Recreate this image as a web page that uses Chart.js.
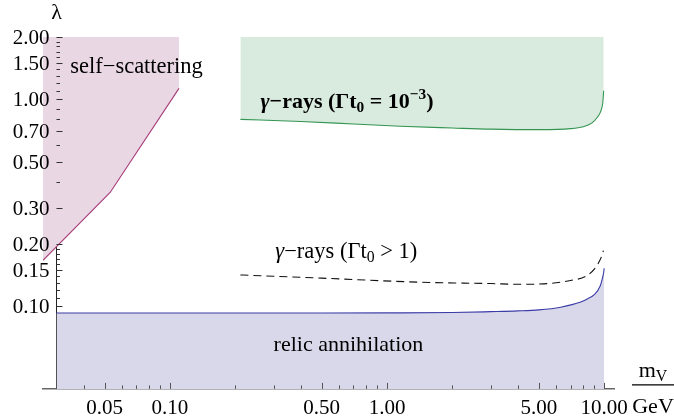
<!DOCTYPE html>
<html><head><meta charset="utf-8">
<script src="https://cdn.jsdelivr.net/npm/chart.js@4.4.1/dist/chart.umd.min.js"></script>
<style>html,body{margin:0;padding:0;background:#fff}</style>
</head><body>
<canvas id="c" width="674" height="420"></canvas>
<script>
// ---- data ----
const xTicks = [0.03,0.04,0.05,0.06,0.07,0.08,0.09,0.1,0.2,0.3,0.4,0.5,0.6,0.7,0.8,0.9,1,2,3,4,5,6,7,8,9,10];
const xTickLabels = [0.05,0.1,0.5,1,5,10];
const yTicks = [0.1,0.11,0.12,0.13,0.14,0.15,0.16,0.17,0.18,0.19,0.2,0.3,0.4,0.5,0.6,0.7,0.8,0.9,1,1.1,1.2,1.3,1.4,1.5,1.6,1.7,1.8,1.9,2];
const yTickLabels = [0.1,0.15,0.2,0.3,0.5,0.7,1,1.5,2];

// relic annihilation (lower boundary of allowed region, filled below)
const relicX = [0.03, 0.1, 0.5, 1, 2, 3, 4, 5, 6.3, 7.8, 8.4, 9.0, 9.6, 9.8, 9.95, 10];
const relicY = [0.093, 0.093, 0.093, 0.0931, 0.0935, 0.0944, 0.0952, 0.0963, 0.0992, 0.105, 0.109, 0.114, 0.126, 0.136, 0.146, 0.153];

// gamma-rays (Γt0 = 10^-3), filled above
const gammaX = [0.211, 0.4, 0.7, 1.15, 2, 3, 5.1, 7, 8.0, 8.8, 9.3, 9.62, 9.85, 9.95];
const gammaY = [0.80, 0.782, 0.76, 0.741, 0.727, 0.718, 0.714, 0.722, 0.738, 0.77, 0.82, 0.87, 0.96, 1.10];

// gamma-rays (Γt0 > 1), dashed
const dashX = [0.211, 0.5, 1.42, 3, 4.11, 5.5, 7.0, 8.34, 9.28, 9.8, 9.92];
const dashY = [0.142, 0.137, 0.131, 0.129, 0.128, 0.129, 0.1336, 0.141, 0.158, 0.178, 0.186];

// self-scattering, filled above
const selfX = [0.026, 0.053, 0.11];
const selfY = [0.167, 0.355, 1.13];

const pts = (xs, ys) => xs.map((x, i) => ({x, y: ys[i]}));
const FONT = "'Liberation Serif', 'Times New Roman', serif";

function drawRuns(ctx, runs, x, y, base, weight) {
  const f = r => `${r.i ? 'italic ' : ''}${weight||''} ${base*(r.s||1)}px ${FONT}`;
  let w = 0;
  runs.forEach(r => { ctx.font = f(r); r.w = ctx.measureText(r.t).width; w += r.w; });
  let cx = x;
  ctx.textAlign = 'left'; ctx.textBaseline = 'alphabetic';
  runs.forEach(r => { ctx.font = f(r); ctx.fillText(r.t, cx, y + (r.dy||0)); cx += r.w; });
  return w;
}

const decor = {
  id: 'decor',
  afterDraw(chart) {
    const ctx = chart.ctx, xs = chart.scales.x, ys = chart.scales.y;
    const ax = xs.getPixelForValue(0.03);
    const ay = ys.getPixelForValue(ys.min);
    ctx.save();
    // tick marks (inward)
    ctx.strokeStyle = '#555'; ctx.lineWidth = 1;
    xTicks.forEach(v => {
      const p = Math.round(xs.getPixelForValue(v)) + 0.5;
      const len = xTickLabels.includes(v) ? 6 : 3.5;
      ctx.beginPath(); ctx.moveTo(p, ay); ctx.lineTo(p, ay - len); ctx.stroke();
    });
    ctx.strokeStyle = '#333';
    ctx.fillStyle = '#000';
    ctx.font = `21px ${FONT}`;
    yTicks.forEach(v => {
      const p = Math.round(ys.getPixelForValue(v)) + 0.5;
      const major = yTickLabels.includes(v);
      const len = major ? 6 : 3.5;
      ctx.beginPath(); ctx.moveTo(ax, p); ctx.lineTo(ax + len, p); ctx.stroke();
      if (major) { ctx.textAlign = 'right'; ctx.textBaseline = 'middle'; ctx.fillText(v.toFixed(2), ax - 7, p + 1); }
    });
    // axis titles
    ctx.font = `22px ${FONT}`; ctx.textAlign = 'center'; ctx.textBaseline = 'alphabetic';
    ctx.fillText('λ', ax, 19);
    const fx = chart.chartArea.right + 18, fx2 = 674;
    const fc = (fx + fx2) / 2;
    ctx.strokeStyle = '#000'; ctx.lineWidth = 1.2;
    ctx.beginPath(); ctx.moveTo(fx, ay - 4); ctx.lineTo(fx2, ay - 4); ctx.stroke();
    // m_V
    ctx.font = `22px ${FONT}`;
    const mw = ctx.measureText('m').width; ctx.font = `16px ${FONT}`; const vw = ctx.measureText('V').width;
    drawRuns(ctx, [{t:'m'},{t:'V', s:0.72, dy:4}], fc - (mw+vw)/2, ay - 12, 22);
    ctx.font = `22px ${FONT}`; ctx.textAlign = 'center';
    ctx.fillText('GeV', fc, ay + 24);
    // region labels
    const P = (x, y) => [xs.getPixelForValue(x), ys.getPixelForValue(y)];
    let p;
    p = P(0.0347, 1.34); drawRuns(ctx, [{t:'self−scattering'}], p[0], p[1], 22.5);
    p = P(0.261, 0.905); drawRuns(ctx, [{t:'γ', i:1},{t:'−rays (Γt'},{t:'0', s:0.7, dy:4},{t:' = 10'},{t:'−3', s:0.7, dy:-9},{t:')'}], p[0], p[1], 22, 'bold');
    p = P(0.3056, 0.1706); drawRuns(ctx, [{t:'γ', i:1},{t:'−rays (Γt'},{t:'0', s:0.7, dy:4},{t:' > 1)'}], p[0], p[1], 22.5);
    p = P(0.300, 0.0608); drawRuns(ctx, [{t:'relic annihilation'}], p[0], p[1], 22);
    ctx.restore();
  }
};

new Chart(document.getElementById('c'), {
  type: 'scatter',
  data: {
    datasets: [
      { data: pts(relicX, relicY), showLine: true, fill: 'start', backgroundColor: 'rgb(217,216,234)', borderColor: 'rgb(60,60,168)', borderWidth: 1.1, pointRadius: 0, cubicInterpolationMode: 'monotone' },
      { data: pts(gammaX, gammaY), showLine: true, fill: 'end', backgroundColor: 'rgb(217,234,223)', borderColor: 'rgb(52,150,82)', borderWidth: 1.1, pointRadius: 0, cubicInterpolationMode: 'monotone' },
      { data: pts(dashX, dashY), showLine: true, fill: false, borderColor: '#111', borderWidth: 1.1, borderDash: [8, 5], pointRadius: 0, cubicInterpolationMode: 'monotone' },
      { data: pts(selfX, selfY), showLine: true, fill: 'end', backgroundColor: 'rgb(233,215,227)', borderColor: 'rgb(168,60,122)', borderWidth: 1.1, pointRadius: 0, tension: 0 }
    ]
  },
  options: {
    responsive: false, animation: false, devicePixelRatio: 1,
    layout: { padding: { left: 43, right: 60, top: 37, bottom: -8 } },
    plugins: { legend: { display: false }, tooltip: { enabled: false } },
    scales: {
      x: {
        type: 'logarithmic', min: 0.026, max: 11.1, position: 'bottom',
        afterBuildTicks: s => { s.ticks = xTicks.map(v => ({value: v})); },
        ticks: { autoSkip: false, maxRotation: 0, padding: 8, color: '#000',
          font: { family: FONT, size: 21, lineHeight: 1.1 },
          callback: v => xTickLabels.includes(v) ? v.toFixed(2) : '' },
        grid: { display: false, drawTicks: false },
        border: { display: true, color: '#666', width: 1.6 }
      },
      y: {
        type: 'logarithmic', min: 0.04, max: 2.0, position: { x: 0.03 },
        afterBuildTicks: s => { s.ticks = yTicks.map(v => ({value: v})); },
        ticks: { display: false },
        grid: { display: false, drawTicks: false },
        border: { display: true, color: '#222', width: 1 }
      }
    }
  },
  plugins: [decor]
});
</script>
</body></html>
